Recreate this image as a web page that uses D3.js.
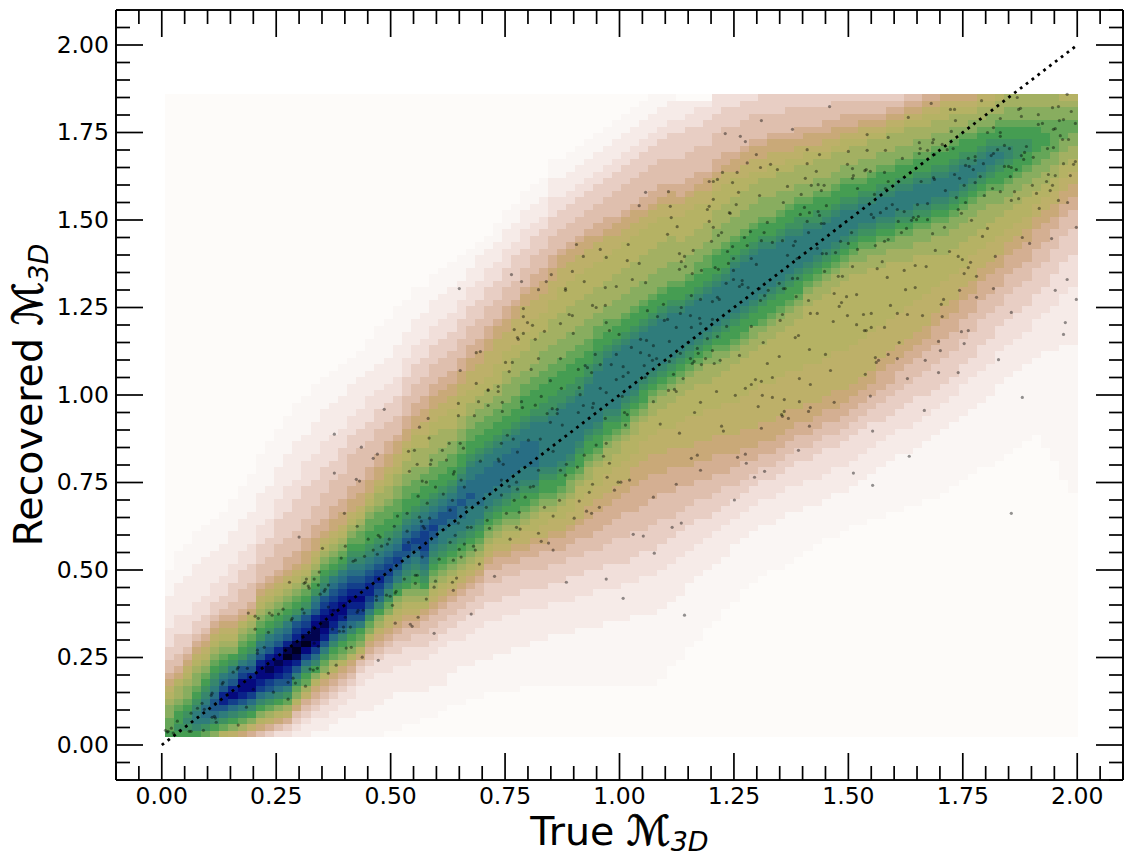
<!DOCTYPE html>
<html>
<head>
<meta charset="utf-8">
<script src="https://cdn.jsdelivr.net/npm/d3@7"></script>
<style>
  html, body { margin: 0; padding: 0; background: #fff; }
  svg { display: block; }
  text { font-family: "DejaVu Sans", sans-serif; fill: #000; }
  .tick text { font-size: 23.5px; }
  .axis path, .axis line { stroke: #000; stroke-width: 1.7px; }
  .axis-title { font-size: 39.5px; }
  .script-m { stroke: #000; stroke-width: 0.8px; font-size: 41px; }
  .sub { font-size: 27px; font-style: italic; }
</style>
</head>
<body>
<svg id="chart" width="1133" height="863"></svg>
<script>
const majorTickLabels = ['0.00', '0.25', '0.50', '0.75', '1.00', '1.25', '1.50', '1.75', '2.00'];
const minorTicks = [-0.1, -0.05, 0.05, 0.1, 0.15, 0.2, 0.3, 0.35, 0.4, 0.45, 0.55, 0.6, 0.65, 0.7, 0.8, 0.85, 0.9, 0.95,
  1.05, 1.1, 1.15, 1.2, 1.3, 1.35, 1.4, 1.45, 1.55, 1.6, 1.65, 1.7, 1.8, 1.85, 1.9, 1.95, 2.05, 2.1];
const diagonal = [[0, 0], [2, 2]];

// density levels, a = palest .. x = darkest
const levelColors = ['#fdfbf9', '#faf6f4', '#f6ebe8', '#f1dfda', '#e8cec4', '#dfbfae', '#d4af92', '#c9a978',
  '#bdb069', '#b5b264', '#a3b062', '#88ad5f', '#65a658', '#459d52', '#3e9160', '#37866d', '#2f7c7b', '#286e84',
  '#1d5689', '#133f8b', '#0a228a', '#05097e', '#020450', '#000020'];

// grid extent, 100 x 100 cells
const gridX = [0.006, 2.0];
const gridY = [0.0237, 1.86];
const gridSize = 100;

// one entry per column: first non background row, then its levels going up
const densityColumns = [
[0,"nmmllkjihgffeedddcccccbbbb"],
[0,"nonnmlkkjhgffeeedddcccccbbbbb"],
[0,"noponmllkjihgfeedddccccccbbbbb"],
[0,"npqqponmllkjihgfeedddccccccbbbbb"],
[0,"moqrrqponmlkjihgfeedddccccccbbbbb"],
[0,"lnprssrqponmlkjihgfeedddcccccbbbbb"],
[0,"jmoqsuusrqonmlkjihgfeedddcccccbbbbb"],
[0,"ilnprtvusrqonlkjihgffeeedddcccccbbbbb"],
[0,"hkmoqsuvvtsqonmlkjhgfffeeedddcccccbbbbb"],
[0,"gilnprtvvusrqonmlkjhgfffeeedddcccccbbbbbb"],
[0,"fhjlnprtuvvusrqonmlkjihgfffeeedddcccccbbbbbb"],
[0,"egikmoqstvwvusrqonmlkjihgfffeeedddcccccbbbbbbb"],
[0,"dfhjlnprsuvwvusrqonmlkjihgffffeeeedddcccccbbbbbb"],
[0,"degikmoqstuvxwusrqonmlkjihggfffeeeeddddcccccbbbbbb"],
[0,"cdefhjlmoqsuwxwutsqonmlkjihggfffeeeeedddccccccbbbbbb"],
[0,"ccdefgikmnprtvxwutsqonmlkjihhggfffeeeeeddddccccbbbbbb"],
[0,"bccdefghjlnprtvwwvusrqonmlkjihhggfffeeeeddddcccccbbbbbb"],
[0,"bccddefghjlmoqsuvwvutsqponmlkjihggffffeeeeddddcccccbbbbb"],
[0,"bbccddefghjkmnprtuvvutsrqonmlkjihhggffffeeeddddcccccbbbbb"],
[0,"bbbccddefghjlmnprsuvvutsrqonmlkjihhggffffeeeedddcccccbbbbb"],
[0,"bbbcccddefghjlmnprstuvutsrqponmlkjihhggfffffeeedddcccccbbbb"],
[0,"bbbbccccddefhjlmnqstuvutsrqponmmlkjihhggfffffeeedddcccccbbbb"],
[0,"bbbbcccccddefghjlmoqstuutsrqponnmmlkjihhggffffeeeddddccccbbbbb"],
[0,"bbbbbcccccddefghiklnprstutsrqponnmmlkkjihhggffffeeedddccccbbbbbb"],
[1,"bbbbbccccdddefghijlmoprsttsrqponnmmlkkjjihhggfffeeedddccccbbbbbb"],
[1,"bbbbbbccccddeefghijklnoqrstsrqponnmmllkkjiihhgfffeeedddcccccbbbbbb"],
[2,"bbbbbccccdddeffghijklnopqrstsrqponnmmllkkjjihhggfffeeedddccccbbbbb"],
[2,"bbbbbcccccddeefghijklmnopqrstsrqponnmmllkkkjjihhggfffeeedddccccbbbbb"],
[3,"bbbbcccccddeeffghjklnopqrstttsrqponnmmlkkkjjiihhggfffeeedddccccbbbb"],
[3,"bbbbbcccccddeeffghijklmnopqrstsrqponnmmllkkkjjiihhggfffeeedddccccbbbb"],
[4,"bbbbccccccddeeffghijklmnopqqrssrqponnmmllkkkjjiihhggfffeeedddccccbbbb"],
[5,"bbbbbcccccddeeffghijklmnopqqrssrqponnmmllkkjjjiihhggfffeeedddccccbbbb"],
[5,"bbbbbbccccdddeeffghijklmnopqqrrsrrqponnmmllkkjjjiihhggfffeeedddcccbbbb"],
[6,"bbbbbcccccdddeeffghijklmnopqqqrsrrqqponnmmllkkjjiiihhggfffeeedddcccbbb"],
[6,"bbbbbbcccccdddeeffghijklmnopqqrrrrrqqponnmmllkkjjiiihhggfffeeedddccccbb"],
[7,"bbbbbccccccdddeeeffghijklmnopqqrrrrqqponnmmllkkjjiiiihhggfffeeedddcccbb"],
[7,"bbbbbbcccccdddeeeffgghijklmnopqqrrrrqqponnmmllkkjjjiiiihhgfffeeedddcccbbb"],
[7,"bbbbbbccccccdddeeeffghijjklmnopqqrrrrqqponnmmlllkkjjjiiihhggfffeeedddcccbbb"],
[7,"bbbbbbbcccccdddeeeffgghijklmnnopqqrrrrqqponnmmlllkkkjjiiiihhgfffeeeeddcccbbb"],
[8,"bbbbbbccccccdddeeeffghiijklmnnopqqrrrrqqponnnmmllkkkjjjiiiihhgfffeeedddcccbbb"],
[8,"bbbbbbbcccccdddeeeffgghijjklmnopqqrrrrqqqponnnmmllkkkkjjjiiihhggfffeeeddcccbbb"],
[8,"bbbbbbbcccccdddeeefffghiijjklmnnopqqqqqqqpoonnnmmlllkkkjjjiiihhggfffeeeddcccbbb"],
[8,"bbbbbbbbcccccdddeeeffgghiijklmnnopqqqqqqqqpoonnnmmlllkkkkjjjiiihhggfffeeedddcccbbb"],
[8,"bbbbbbbbcccccdddeeeffgghiijjklmnnopqqqqqqqqpoonnnmmlllkkkkjjjjiiihhgfffeeeddcccbbb"],
[8,"bbbbbbbbcccccddddeeeffgghiijjkllmnopqqqqqqqqpoonnnmmlllkkkkjjjjiiihhgfffeeeddcccbbb"],
[8,"bbbbbbbbbcccccdddeeefffgghiiijjklmnnopqqqqqqqpoonnnmmlllkkkkjjjjiiihhgfffeeeddcccbbb"],
[8,"bbbbbbbbbcccccddddeeeffggghhiijjkklmnnopqqqqqqqpoonnmmlllkkkkjjjjiiihhgfffeeeddcccbbb"],
[8,"bbbbbbbbbccccccdddeeefffggghhiijjjklmnnopqqqqqqqqpoonnmmllkkkkjjjjiiihggfffeeeddcccbbb"],
[8,"bbbbbbbbbbcccccddddeeefffggghhiiijjkklmnnopqqqqqqqqponnmmllkkkkjjjjiiihggfffeeeddcccbbb"],
[8,"bbbbbbbbbbcccccddddeeeefffggghhiiijjkklmnopqqqqqqqqqponnmlllkkkkjjjjiihhgffffeeeddcccbbb"],
[8,"bbbbbbbbbbccccccdddeeeeffffggghhiiijjjklmnnopqqqqqqqqponnmlllkkkkjjjjiihhgffffeeeddcccbbb"],
[8,"bbbbbbbbbbbcccccddddeeeefffgggghhhiijjjkklmnopqqqqqqqqponnmlllkkkkjjjjiihhgffffeeeddcccbbb"],
[8,"bbbbbbbbbbbccccccddddeeeffffgggghhhiiijjjklmnnopqqqqqqqponnmlllkkkkjjjjiihggffffeeeddcccbbb"],
[8,"bbbbbbbbbbbccccccddddeeeeffffgggghhhiiijjjkklmnopqqqqqqqponnmlllkkkkjjjjiihggffffeeeddcccbbb"],
[9,"bbbbbbbbbbbccccccddddeeeeffffggghhhiiiijjjkklmnopqqqqqqqponnmlllkkkkjjjjiihggffffeeeddcccbb"],
[11,"bbbbbbbbbbccccccddddeeeffffgggghhhiiijjjjkklmnopqqqqqqqponnmlllkkkkjjjiihhgffffeeeeddcccb"],
[12,"bbbbbbbbbbccccccddddeeeffffggghhhiiiijjjjkklmnopqqqqqqponnmlllkkkjjjjiihggffffeeeeddccc"],
[14,"bbbbbbbbbbcccccddddeeefffggghhhiiiiijjjjkklmnopqqqqqqponnmlllkkkjjjjiihggffffeeeeddcc"],
[15,"bbbbbbbbbbcccccddddeeefffggghhhiiiijjjjjkklmnopqqqqqqponnmmllkkkjjjjiihggffffeeedddc"],
[17,"bbbbbbbbbcccccdddeeefffggghhhiiiiijjjjkkklmnopqqqqqqponnmmllkkkjjjiihhgffffeeeeddc"],
[18,"bbbbbbbbbcccccdddeeefffggghhhiiiijjjjjkkllmnopqqqqqqponnnmlllkkkjjjiihggffffeeeddd"],
[20,"bbbbbbbbcccccdddeeeffggghhhiiiiijjjjjkklmnnopqqqqqqponnnmlllkkkjjjiihggffffeeedd"],
[21,"bbbbbbbbbccccdddeefffgghhhiiiiijjjjjjkklmnnopqqqqqqqponnmlllkkkjjjihhgffffeeedd"],
[23,"bbbbbbbbccccdddeefffgghhhiiiiijjjjjjkklmnnopqqqqqqqponnmlllkkkjjiihhgffffeeed"],
[24,"bbbbbbbbccccdddeeffgghhhiiiiiijjjjjjkkllnnopqqqqqqqponnmlllkkkjjiihhgffffeed"],
[25,"bbbbbbbbccccdddeeffgghhhiiiiiijjjjjjkklmnnopqqqqqqqponnmlllkkkjiihhgffffeee"],
[26,"bbbbbbbccccdddeeffgghhhiiiiiijjjjjjjkklmnnopqqqqqqponnmlllkkkjjiihhgfffeee"],
[26,"bbbbbbbbccccdddeeffgghhhiiiiiijjjjjjjkklmnnopqqqqqqponnmlllkkkjiihhgfffeee"],
[27,"bbbbbbbbccccdddeeffgghhhiiiiiijjjjjjjkklmnnopqqqqqqponnmllkkkjjihhgffffee"],
[28,"bbbbbbbccccddddeeffgghhiiiiiijjjjjjjjkklmnnopqqqqqpoonnmllkkkjiihggfffee"],
[29,"bbbbbbbccccdddeeffgghhhiiiiiijjjjjjjjjkklmnopqqqqqponnmllkkkjjihhgfffee"],
[30,"bbbbbbccccddddeeffgghhiiiiiijjjjjjjjjjkklmnopqqqqpoonnmllkkkjihhgfffee"],
[31,"bbbbbbccccddddeeffgghhiiiiiijjjjjjjjjjkklmnopqqqqponnmllkkkjiihggffee"],
[31,"bbbbbbbccccdddeeffgghhhiiiiiijjjjjjjjjjkklmnopqqqqponnmllkkkjihhgfffe"],
[32,"bbbbbbccccddddeeffgghhiiiiiijjjjjjjjjjjkklmnopqqqqponnmllkkjjihggffe"],
[33,"bbbbbbccccddddeeffgghhiiiiiijjjjjjjjjjjkklmnopqqqponnmllkkkjihggffe"],
[33,"bbbbbbbccccddddeeffgghhiiiiiijjjjjjjjjjkkllmnopqqqponmlllkkjiihgffe"],
[34,"bbbbbbbccccddddeeffgghhiiiiiijjjjjjjjjjkklmnopqqqponnmllkkkjihgffe"],
[34,"bbbbbbbbccccdddeeeffggghhiiiiijjjjjjjjjkkllmnopqqqponnmllkkjihgffe"],
[35,"bbbbbbbbccccdddeeeffggghhiiiiijjjjjjjjjkklmnopqqqponnmllkkkjihgfe"],
[35,"bbbbbbbbbccccdddeeefffgghhiiiiijjjjjjjjkkllmnopqqqponnmllkkjihgfe"],
[36,"bbbbbbbbccccddddeeefffgghhiiiiijjjjjjjkkllmnopqqqponnmllkkkjihgf"],
[36,"bbbbbbbbbccccddddeeefffgghhiiiiijjjjjjjkkllmnopqqqponnmllkkjihgf"],
[37,"bbbbbbbbbccccdddeeeefffgghhiiiiijjjjjjkkllmnopqqqponnmllkkjjihg"],
[37,"bbbbbbbbbbccccdddeeeefffggghhiiiijjjjjkkkllmnopqqqponnmllkkjihg"],
[38,"bbbbbbbbbbccccdddeeeefffggghhiiiijjjjkkkllmnopqqqponnmllkkjjih"],
[39,"bbbbbbbbbbccccdddeeeefffggghhiiiijjjjkkkllmnopqqqponnmllkkjih"],
[40,"bbbbbbbbbbcccccdddeeeefffggghhiiijjjjkkkllmnopqqqponnmlkkjih"],
[41,"bbbbbbbbbbcccccdddeeeefffggghhiiiijjjkkkllmnopqqponnmllkjih"],
[42,"bbbbbbbbbbcccccddddeeeefffggghhiiijjjkkkllmnopqqponnmlkkji"],
[42,"bbbbbbbbbbbcccccddddeeeefffggghhiiijjjkkkllmnopqqponmllkji"],
[43,"bbbbbbbbbbbbcccccddddeeefffggghhiiijjjkkllmnnopqponnmlkkj"],
[44,"bbbbbbbbbbbbcccccddddeeeefffggghhiijjjkkllmnnopponnmllkk"],
[45,"bbbbbbbbbbbbcccccddddeeeefffggghhiijjjkkllmnnooonnmllkk"],
[46,"bbbbbbbbbbbbcccccddddeeeefffggghhiijjjkkllmnnoonnmllkk"],
[47,"bbbbbbbbbbbbccccccddddeeeefffggghhiijjkkllmmnnnnmllkk"],
[45,"bbbbbbbbbbbbbbbccccccddddeeeefffggghhiijjkkllmmnnmmllkk"],
[43,"bbbbbbbbbbbbbbbbbcccccccdddddeeeefffgghhiijjkkllmmmmmllkk"],
[40,"bbbbbbbbbbbbbbbbbbbbbccccccccdddddeeeefffgghhiijjkkllmmmllkj"],
[38,"bbbbbbbbbbbbbbbbbbbbbbbcccccccccdddddeeeefffgghhiijjkkllmmllkj"]
];

// scattered catalogue points [true, recovered]
const scatterPoints = [
[.486,.959],[.650,1.304],[.764,1.344],[.786,1.324],[.823,1.301],[.840,1.324],[.851,1.344],[.882,1.304],[.882,1.299],[.897,1.353],[.906,1.430],[.921,1.396],[.958,1.416],[.971,1.393],[.923,1.324],[.969,1.307],[.993,1.310],[.790,1.247],[.790,1.224],[.799,1.207],[.810,1.199],[.770,1.187],[.790,1.176],[.777,1.164],[.779,1.159],[.816,1.159],[.836,1.182],[.871,1.204],[.890,1.230],[.897,1.227],[.899,1.176],[.941,1.256],[.949,1.250],[.969,1.256],[.971,1.207],[.978,1.184],[.999,1.173],[.687,1.121],[.696,1.124],[.652,1.070],[.687,1.033],[.713,1.015],[.713,1.013],[.735,1.024],[.735,1.010],[.751,1.093],[.766,1.093],[.759,1.067],[.807,1.073],[.823,1.104],[.871,1.104],[.849,1.041],[.873,1.019],[.910,1.073],[.925,1.084],[.930,1.078],[.939,1.064],[.947,1.116],[.958,1.087],[.982,1.087],[.993,1.116],[.993,1.044],[.912,1.021],[.958,1.019],[.914,1.001],[.971,1.007],[.829,.996],[.816,.971],[.786,.981],[.788,.964],[.744,.979],[.744,.953],[.713,.970],[.692,.981],[.648,.976],[.648,.941],[.683,.941],[.582,.933],[.853,.961],[.864,.959],[.864,.947],[.842,.947],[.921,.970],[.943,.976],[.941,.964],[.910,.950],[.969,.933],
[.377,.888],[.436,.851],[.471,.831],[.462,.819],[.377,.777],[.425,.759],[.432,.754],[.399,.662],[.427,.625],[.300,.594],[.351,.562],[.401,.568],[.539,.839],[.552,.842],[.584,.877],[.558,.802],[.541,.782],[.563,.908],[.613,.842],[.628,.862],[.652,.862],[.659,.848],[.589,.814],[.587,.802],[.622,.814],[.639,.781],[.637,.774],[.569,.754],[.578,.751],[.598,.737],[.654,.757],[.661,.737],[.560,.711],[.615,.717],[.580,.691],[.635,.699],[.630,.671],[.536,.662],[.515,.654],[.563,.651],[.585,.648],[.567,.639],[.508,.625],[.571,.625],[.574,.619],[.536,.611],[.473,.599],[.477,.594],[.451,.588],[.497,.588],[.493,.574],[.462,.557],[.480,.568],[.471,.545],[.443,.539],[.418,.525],[.423,.528],[.392,.534],[.539,.579],[.569,.537],[.606,.531],[.637,.528],[.630,.579],[.641,.599],[.668,.622],[.676,.622],[.648,.634],[.665,.679],[.709,.679],[.711,.642],[.716,.619],[.661,.574],[.654,.537],[.650,.559],[.681,.568],[.685,.557],[.694,.517],[.644,.477],[.635,.465],[.637,.442],[.598,.468],[.595,.451],[.578,.417],[.560,.365],[.547,.339],[.543,.345],[.510,.348],[.504,.399],[.595,.319],[.676,.374],[.473,.242],[.438,.251],[.414,.279],[.403,.277],[.381,.228],[.364,.205],[.314,.168],[.167,.057],[.276,.131],[.884,.465],[.971,.474],[.727,.482],[.855,.557],[.845,.577],[.829,.582],[.855,.654],[.901,.648],[.928,.668],[.939,.662],[.956,.679],[.912,.697],[.869,.699],[.836,.679],[.823,.605],[.775,.622],[.783,.617],[.761,.588],[.753,.662],[.781,.665],[.794,.708],[.742,.714],[.770,.699],[.805,.737],[.812,.739],[.777,.731],[.759,.739],[.775,.751],[.742,.757],[.855,.839],
[.189,.377],[.204,.368],[.211,.362],[.235,.377],[.241,.371],[.255,.374],[.265,.388],[.279,.465],[.311,.462],[.314,.465],[.316,.474],[.333,.474],[.344,.494],[.342,.457],[.364,.457],[.346,.431],[.355,.439],[.357,.445],[.322,.448],[.204,.331],[.233,.322],[.285,.362],[.283,.357],[.307,.388],[.311,.377],[.331,.337],[.364,.394],[.375,.385],[.401,.365],[.429,.385],[.440,.385],[.427,.379],[.397,.337],[.397,.325],[.388,.325],[.412,.337],[.373,.331],[.333,.291],[.342,.282],[.224,.279],[.209,.271],[.209,.262],[.187,.219],[.167,.222],[.165,.217],[.156,.208],[.134,.179],[.132,.174],[.110,.148],[.108,.142],[.088,.119],[.078,.105],[.064,.091],[.093,.102],[.117,.117],[.115,.082],[.117,.077],[.110,.079],[.119,.065],[.091,.042],[.060,.039],[.064,.039],[.034,.068],[.021,.048],[.014,.039],[.008,.042],[.012,.037],[.025,.034],[.040,.042],[.276,.179],[.292,.177],[.287,.191],[.324,.217],[.331,.214],[.340,.219],[.244,.151],[.185,.108],[.200,.159],[.320,.454],[.554,.485],[.558,.485],[.554,.462],[.530,.474],[.491,.428],[.512,.439],[.510,.434],[.499,.425],[.469,.425],[.469,.414],
[1.459,1.824],[1.310,1.784],[1.378,1.759],[1.231,1.747],[1.264,1.739],[1.275,1.724],[1.299,1.687],[1.279,1.663],[1.308,1.650],[1.330,1.659],[1.345,1.644],[1.225,1.636],[1.257,1.636],[1.196,1.610],[1.205,1.610],[1.214,1.616],[1.247,1.607],[1.057,1.579],[1.107,1.581],[1.043,1.541],[1.111,1.539],[1.113,1.507],[1.126,1.481],[1.105,1.459],[1.019,1.430],[1.131,1.404],[1.142,1.396],[1.135,1.381],[1.017,1.384],[1.043,1.376],[1.144,1.367],[1.131,1.359],[1.161,1.413],[1.159,1.347],[1.028,1.330],[1.057,1.321],[1.179,1.356],[1.209,1.364],[1.216,1.359],[1.201,1.439],[1.196,1.496],[1.205,1.479],[1.216,1.456],[1.223,1.464],[1.192,1.530],[1.196,1.539],[1.205,1.559],[1.255,1.544],[1.260,1.579],[1.306,1.570],[1.240,1.521],[1.242,1.519],[1.323,1.493],[1.286,1.467],[1.273,1.450],[1.316,1.464],[1.310,1.441],[1.279,1.427],[1.247,1.424],[1.236,1.410],[1.249,1.390],[1.238,1.376],[1.288,1.390],[1.299,1.373],[1.249,1.356],[1.233,1.319],[1.268,1.327],[1.268,1.316],[1.262,1.310],[1.249,1.330],[1.281,1.307],[1.306,1.304],[1.157,1.284],[1.177,1.273],[1.214,1.279],[1.218,1.273],[1.203,1.267],[1.096,1.259],[1.061,1.241],[1.135,1.250],[1.133,1.233],[1.083,1.224],[1.098,1.213],[1.105,1.216],[1.175,1.219],[1.155,1.227],[1.177,1.204],[1.124,1.193],[1.157,1.193],[1.190,1.190],[1.234,1.196],[1.203,1.216],[1.046,1.159],[1.059,1.156],[1.026,1.136],[1.046,1.121],[1.074,1.141],[1.109,1.153],[1.150,1.150],[1.170,1.133],[1.192,1.161],[1.214,1.167],[1.172,1.119],[1.203,1.127],[1.065,1.113],[1.072,1.099],[1.081,1.104],[1.133,1.119],[1.109,1.096],[1.155,1.104],[1.188,1.104],[1.054,1.084],[1.008,1.081],[1.008,1.053],[1.019,1.064],[1.056,1.050],[1.118,1.059],[1.159,1.090],[1.163,1.096],[1.179,1.087],[1.207,1.090],[1.220,1.099],[1.139,1.047],[1.107,1.013],[1.120,1.016],[1.124,1.010],[1.212,1.010],[1.074,.981],[1.006,.996],[1.177,.979],[1.164,.950],[1.011,.950],[1.017,.944],[1.262,1.113],[1.288,1.196],[1.314,1.150],[1.351,1.213],[1.356,1.230],[1.384,1.164],[1.391,1.170],[1.349,1.110],[1.323,1.090],[1.297,1.044],[1.288,1.030],[1.275,1.019],[1.310,1.039],[1.334,1.050],[1.253,.999],[1.312,.999],[1.334,.993],[1.360,.987],[1.303,.967],[1.393,1.047],[1.417,1.030],[1.393,.981],[1.360,.953],[1.354,.944],[1.356,.939],[1.369,.933],[1.417,.964],[1.413,.953],[1.461,1.070],[1.415,1.130],[1.450,1.116],[1.432,1.233],[1.417,1.233],[1.413,1.270],[1.386,1.281],[1.362,1.304],[1.325,1.299],[1.317,1.284],[1.308,1.270],[1.467,1.210],[1.498,1.227],[1.480,1.253],[1.485,1.264],[1.496,1.281],[1.469,1.290],[1.518,1.287],[1.518,1.201],[1.535,1.184],[1.539,1.184],[1.550,1.193],[1.579,1.193],[1.533,1.230],[1.550,1.233],[1.592,1.256],[1.607,1.233],[1.629,1.230],[1.662,1.227],[1.625,1.301],[1.646,1.307],[1.585,1.336],[1.478,1.339],[1.487,1.339],[1.509,1.367],[1.448,1.353],[1.563,1.361],[1.574,1.381],[1.622,1.356],[1.646,1.370],[1.670,1.367],[1.690,1.413],[1.721,1.410],[1.740,1.396],[1.749,1.387],[1.767,1.379],[1.762,1.364],[1.753,1.347],[1.780,1.339],[1.743,1.299],[1.780,1.279],[1.708,1.273],[1.703,1.259],[1.705,1.224],[1.817,1.304],[1.856,1.236],[1.747,1.181],[1.762,1.184],[1.697,1.153],[1.701,1.127],[1.753,1.147],[1.828,1.101],[1.697,1.064],[1.740,1.064],[1.611,1.150],[1.559,1.107],[1.561,1.093],[1.566,1.099],[1.587,1.116],[1.607,1.104],[1.668,1.099],[1.629,1.047],[1.537,1.059],[1.548,.997],[1.469,.979],[1.666,.956],[1.880,.993],[1.970,1.173],[1.974,1.207],[1.998,1.273],[1.952,1.299],[1.978,1.330],[1.998,1.479],[1.944,1.447],[1.896,1.433],[1.880,1.450],[1.821,1.396],[1.804,1.476],[1.793,1.453],[1.769,1.499],[1.917,1.533],[1.959,1.556],[1.979,1.550],[1.856,1.556],[1.872,1.561],[1.863,1.581],[1.832,1.581],[1.815,1.590],[1.797,1.570],[1.911,1.576],[1.941,1.584],[1.946,1.599],[1.933,1.610],[1.902,1.599],[1.937,1.630],[1.952,1.627],[1.985,1.627],[1.970,1.661],[1.992,1.659],[1.996,1.667],[1.935,1.704],[1.948,1.707],[1.981,1.730],[1.968,1.730],[1.963,1.741],[1.904,1.679],[1.883,1.673],[1.878,1.684],[1.885,1.693],[1.889,1.710],[1.852,1.704],[1.826,1.701],[1.841,1.713],[1.817,1.690],[1.812,1.684],[1.795,1.661],[1.777,1.681],[1.777,1.670],[1.762,1.676],[1.756,1.656],[1.764,1.653],[1.773,1.644],[1.841,1.653],[1.850,1.653],[1.856,1.650],[1.867,1.644],[1.854,1.624],[1.788,1.624],[1.777,1.607],[1.753,1.599],[1.743,1.619],[1.732,1.630],[1.712,1.584],[1.736,1.564],[1.756,1.550],[1.740,1.530],[1.747,1.519],[1.710,1.479],[1.684,1.461],[1.915,1.801],[1.915,1.773],[1.924,1.776],[1.946,1.821],[1.959,1.824],[1.987,1.810],[1.978,1.859],[1.872,1.816],[1.876,1.819],[1.878,1.796],[1.791,1.841],[1.681,1.833],[1.723,1.816],[1.732,1.816],[1.631,1.793],[1.734,1.784],[1.541,1.744],[1.587,1.736],[1.725,1.753],[1.804,1.750],[1.832,1.750],[1.832,1.739],[1.817,1.764],[1.832,1.790],[1.869,1.850],[1.948,1.759],[1.952,1.761],[1.996,1.776],[1.961,1.784],[1.970,1.787],[1.410,1.701],[1.437,1.687],[1.500,1.696],[1.541,1.699],[1.581,1.699],[1.410,1.661],[1.430,1.639],[1.406,1.619],[1.367,1.596],[1.419,1.599],[1.434,1.601],[1.447,1.599],[1.441,1.584],[1.397,1.573],[1.358,1.550],[1.452,1.541],[1.404,1.536],[1.395,1.516],[1.415,1.521],[1.434,1.524],[1.437,1.513],[1.410,1.496],[1.441,1.490],[1.447,1.490],[1.413,1.464],[1.384,1.439],[1.380,1.427],[1.356,1.441],[1.334,1.436],[1.483,1.484],[1.483,1.439],[1.507,1.464],[1.500,1.433],[1.520,1.416],[1.472,1.407],[1.443,1.404],[1.452,1.404],[1.432,1.419],[1.367,1.399],[1.388,1.390],[1.378,1.333],[1.389,1.333],[1.349,1.319],[1.358,1.304],[1.498,1.659],[1.509,1.647],[1.511,1.627],[1.509,1.619],[1.536,1.641],[1.539,1.644],[1.548,1.639],[1.579,1.636],[1.618,1.676],[1.655,1.721],[1.657,1.704],[1.655,1.690],[1.673,1.699],[1.684,1.721],[1.686,1.730],[1.688,1.687],[1.705,1.716],[1.716,1.701],[1.729,1.704],[1.520,1.590],[1.587,1.610],[1.581,1.590],[1.557,1.573],[1.616,1.464],[1.627,1.476],[1.587,1.444],[1.579,1.439],[1.559,1.427],[1.642,1.507],[1.653,1.510],[1.649,1.501],[1.638,1.499],[1.609,1.496],[1.622,1.524],[1.596,1.544],[1.583,1.533],[1.607,1.530],[1.570,1.521],[1.555,1.507],[1.550,1.516],[1.651,1.544],[1.673,1.547],[1.659,1.610],[1.686,1.621],[1.688,1.616],[1.673,1.501],
[1.013,.914],[1.089,.917],[1.131,.891],[1.223,.911],[1.227,.897],[1.310,.905],[1.415,.911],[1.553,.897],[1.391,.842],[1.633,.825],[1.511,.777],[1.553,.742],[1.856,.662],[1.157,.819],[1.170,.828],[1.258,.822],[1.275,.831],[1.277,.805],[1.317,.782],[1.295,.765],[1.177,.785],[1.124,.745],[1.022,.757],[1.003,.751],[1.074,.708],[1.251,.700],[1.135,.634],[1.115,.622],[1.030,.602],[1.052,.597],[1.076,.548],[1.008,.419],[1.142,.371],
[.849,.922],[.875,.914],[.742,.862],[.755,.885],[.768,.874],[.801,.871],[.827,.874],[.777,.837],[.735,.817],[.737,.811],[.696,.811],[.746,.802],[.823,.785],[.871,.785],[.882,.771],[.884,.802],[.908,.794],[.923,.828],[.949,.857],[.971,.862],[.965,.825],[.978,.805],[.973,.765],[.941,.745],[.934,.722],[.989,.728],[.997,.751]
];

const svg = d3.select('#chart');

const x = d3.scaleLinear().domain([-0.1, 2.1]).range([116, 1123]);
const y = d3.scaleLinear().domain([-0.1, 2.1]).range([780, 10]);

// heat map cells
const cellX = d3.scaleLinear().domain([0, gridSize]).range(gridX);
const cellY = d3.scaleLinear().domain([0, gridSize]).range(gridY);
const levelIndex = ch => ch.charCodeAt(0) - 97;
const levelScale = d3.scaleOrdinal().domain(d3.range(levelColors.length)).range(levelColors);

const cells = [];
densityColumns.forEach(([offset, levels], col) => {
  for (let row = 0; row < gridSize; row++) {
    const ch = levels[row - offset];
    cells.push({ col, row, level: ch ? levelIndex(ch) : 0 });
  }
});

svg.append('g')
  .attr('shape-rendering', 'crispEdges')
  .selectAll('rect')
  .data(cells)
  .join('rect')
  .attr('x', d => x(cellX(d.col)))
  .attr('y', d => y(cellY(d.row + 1)))
  .attr('width', d => x(cellX(d.col + 1)) - x(cellX(d.col)) + 0.4)
  .attr('height', d => y(cellY(d.row)) - y(cellY(d.row + 1)) + 0.4)
  .attr('fill', d => levelScale(d.level));

// catalogue points
svg.append('g')
  .selectAll('circle')
  .data(scatterPoints)
  .join('circle')
  .attr('cx', d => x(d[0]))
  .attr('cy', d => y(d[1]))
  .attr('r', 1.6)
  .attr('fill', '#000')
  .attr('fill-opacity', 0.42);

// one to one line
const line = d3.line().x(d => x(d[0])).y(d => y(d[1]));
svg.append('path')
  .datum(diagonal)
  .attr('d', line)
  .attr('fill', 'none')
  .attr('stroke', '#000')
  .attr('stroke-width', 2.78)
  .attr('stroke-dasharray', '2.78 4.57');

// axes, all ticks point inward
const majorTicks = majorTickLabels.map(Number);
const makeAxis = (axisFn, scale, translate, values, size, labels) => {
  const axis = axisFn(scale)
    .tickValues(values)
    .tickSizeInner(-size)
    .tickSizeOuter(0)
    .tickPadding(7)
    .offset(0)
    .tickFormat(labels ? d3.format('.2f') : '');
  svg.append('g')
    .attr('class', 'axis')
    .attr('transform', translate)
    .call(axis);
};

[[27, majorTicks, true], [14, minorTicks, false]].forEach(([size, values, labels]) => {
  makeAxis(d3.axisBottom, x, 'translate(0,780)', values, size, labels);
  makeAxis(d3.axisTop, x, 'translate(0,10)', values, size, false);
  makeAxis(d3.axisLeft, y, 'translate(116,0)', values, size, labels);
  makeAxis(d3.axisRight, y, 'translate(1123,0)', values, size, false);
});

// axis titles
const addTitle = (text, attrs) => {
  const t = svg.append('text').attr('class', 'axis-title').attr('text-anchor', 'middle');
  Object.entries(attrs).forEach(([k, v]) => t.attr(k, v));
  t.append('tspan').text(text + ' ');
  t.append('tspan').attr('class', 'script-m').text('\u2133');
  t.append('tspan').attr('class', 'sub').attr('dy', 6).text('3D');
};

addTitle('True', { x: 619.5, y: 845 });
addTitle('Recovered', { transform: 'translate(42,395) rotate(-90)' });
</script>
</body>
</html>
